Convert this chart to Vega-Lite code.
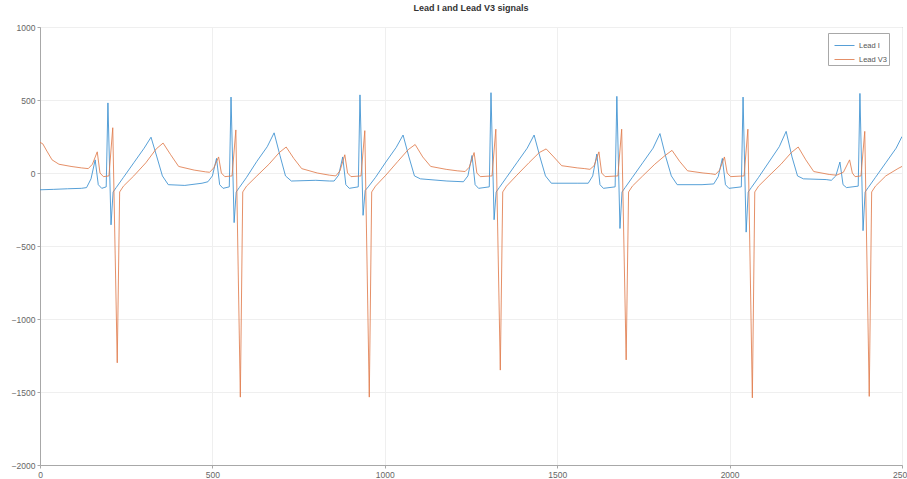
{
  "$schema": "https://vega.github.io/schema/vega-lite/v6.json",
  "width": 862,
  "height": 438,
  "autosize": "none",
  "padding": {"left": 40, "top": 27, "right": 5, "bottom": 14},
  "background": "white",
  "title": {"text": "Lead I and Lead V3 signals", "fontSize": 9, "fontWeight": "bold", "font": "Liberation Sans", "color": "#333333", "offset": 10, "anchor": "middle"},
  "config": {
    "view": {"stroke": "#a8a8a8", "strokeWidth": 1},
    "axis": {"labelFont": "Liberation Sans", "labelFontSize": 8.5, "labelColor": "#666666", "domainColor": "#a8a8a8", "tickColor": "#a8a8a8", "gridColor": "#efefef", "gridWidth": 1, "title": null, "tickSize": 3, "format": "d"}
  },
  "datasets": {
    "lead1": [
      {"t":0,"v":-115},{"t":40,"v":-112},{"t":80,"v":-108},{"t":120,"v":-105},{"t":135,"v":-100},{"t":148,"v":-40},{"t":160,"v":90},{"t":169,"v":-80},{"t":179,"v":-105},{"t":192,"v":-95},{"t":197,"v":480},{"t":206,"v":-355},{"t":212,"v":-130},{"t":221,"v":-100},{"t":242,"v":-30},{"t":272,"v":70},{"t":302,"v":170},{"t":322,"v":245},{"t":339,"v":110},{"t":355,"v":-20},{"t":372,"v":-80},{"t":420,"v":-85},{"t":470,"v":-70},
      {"t":487,"v":-60},{"t":500,"v":-20},{"t":512,"v":100},{"t":521,"v":-80},{"t":531,"v":-105},{"t":549,"v":-95},{"t":554,"v":520},{"t":563,"v":-340},{"t":569,"v":-130},{"t":578,"v":-100},{"t":599,"v":-30},{"t":629,"v":80},{"t":659,"v":180},{"t":679,"v":275},{"t":696,"v":120},{"t":712,"v":-20},{"t":729,"v":-55},{"t":800,"v":-50},{"t":840,"v":-55},
      {"t":853,"v":-55},{"t":866,"v":-15},{"t":878,"v":110},{"t":887,"v":-80},{"t":897,"v":-105},{"t":923,"v":-95},{"t":928,"v":535},{"t":937,"v":-290},{"t":943,"v":-120},{"t":952,"v":-95},{"t":973,"v":-30},{"t":1003,"v":75},{"t":1033,"v":175},{"t":1053,"v":260},{"t":1070,"v":110},{"t":1086,"v":-20},{"t":1103,"v":-40},{"t":1180,"v":-55},
      {"t":1228,"v":-60},{"t":1241,"v":-20},{"t":1253,"v":120},{"t":1262,"v":-80},{"t":1272,"v":-105},{"t":1303,"v":-95},{"t":1308,"v":550},{"t":1317,"v":-320},{"t":1323,"v":-130},{"t":1332,"v":-100},{"t":1353,"v":-30},{"t":1383,"v":70},{"t":1413,"v":170},{"t":1433,"v":260},{"t":1450,"v":110},{"t":1466,"v":-20},{"t":1483,"v":-70},{"t":1560,"v":-70},
      {"t":1590,"v":-70},{"t":1603,"v":-20},{"t":1615,"v":130},{"t":1624,"v":-80},{"t":1634,"v":-105},{"t":1668,"v":-95},{"t":1673,"v":525},{"t":1682,"v":-380},{"t":1688,"v":-130},{"t":1697,"v":-100},{"t":1718,"v":-30},{"t":1748,"v":70},{"t":1778,"v":170},{"t":1798,"v":270},{"t":1815,"v":110},{"t":1831,"v":-20},{"t":1848,"v":-80},{"t":1920,"v":-80},
      {"t":1954,"v":-75},{"t":1967,"v":-25},{"t":1979,"v":100},{"t":1988,"v":-80},{"t":1998,"v":-105},{"t":2034,"v":-95},{"t":2039,"v":520},{"t":2048,"v":-405},{"t":2054,"v":-130},{"t":2063,"v":-100},{"t":2084,"v":-30},{"t":2114,"v":75},{"t":2144,"v":180},{"t":2164,"v":285},{"t":2181,"v":110},{"t":2197,"v":-20},{"t":2214,"v":-40},{"t":2280,"v":-45},
      {"t":2295,"v":-50},{"t":2308,"v":-20},{"t":2320,"v":75},{"t":2329,"v":-80},{"t":2339,"v":-100},{"t":2373,"v":-90},{"t":2378,"v":545},{"t":2387,"v":-395},{"t":2393,"v":-130},{"t":2402,"v":-100},{"t":2423,"v":-30},{"t":2453,"v":70},{"t":2483,"v":170},{"t":2500,"v":250}
    ],
    "v3": [
      {"t":0,"v":210},{"t":8,"v":200},{"t":20,"v":150},{"t":35,"v":90},{"t":55,"v":60},{"t":90,"v":45},{"t":120,"v":35},{"t":140,"v":30},{"t":152,"v":60},{"t":166,"v":145},{"t":174,"v":0},{"t":184,"v":-25},{"t":200,"v":-20},{"t":211,"v":310},{"t":224,"v":-1300},{"t":231,"v":-130},{"t":242,"v":-90},{"t":272,"v":-20},{"t":307,"v":70},{"t":337,"v":165},{"t":357,"v":205},{"t":379,"v":125},{"t":402,"v":45},{"t":447,"v":20},{"t":480,"v":8},
      {"t":492,"v":5},{"t":504,"v":35},{"t":518,"v":110},{"t":526,"v":0},{"t":536,"v":-25},{"t":557,"v":-20},{"t":568,"v":295},{"t":581,"v":-1535},{"t":588,"v":-130},{"t":599,"v":-90},{"t":629,"v":-20},{"t":664,"v":60},{"t":694,"v":140},{"t":714,"v":178},{"t":736,"v":100},{"t":759,"v":30},{"t":804,"v":0},{"t":840,"v":-15},
      {"t":858,"v":-20},{"t":870,"v":15},{"t":884,"v":125},{"t":892,"v":0},{"t":902,"v":-25},{"t":931,"v":-20},{"t":942,"v":290},{"t":955,"v":-1535},{"t":962,"v":-130},{"t":973,"v":-90},{"t":1003,"v":-15},{"t":1038,"v":80},{"t":1068,"v":160},{"t":1088,"v":195},{"t":1110,"v":110},{"t":1133,"v":45},{"t":1178,"v":25},{"t":1210,"v":15},
      {"t":1233,"v":10},{"t":1245,"v":40},{"t":1259,"v":140},{"t":1267,"v":0},{"t":1277,"v":-25},{"t":1311,"v":-20},{"t":1322,"v":300},{"t":1335,"v":-1350},{"t":1342,"v":-130},{"t":1353,"v":-90},{"t":1383,"v":-15},{"t":1418,"v":70},{"t":1448,"v":140},{"t":1468,"v":165},{"t":1490,"v":110},{"t":1513,"v":50},{"t":1558,"v":35},{"t":1580,"v":30},
      {"t":1595,"v":25},{"t":1607,"v":50},{"t":1621,"v":145},{"t":1629,"v":0},{"t":1639,"v":-25},{"t":1676,"v":-20},{"t":1687,"v":300},{"t":1700,"v":-1280},{"t":1707,"v":-130},{"t":1718,"v":-90},{"t":1748,"v":-20},{"t":1783,"v":60},{"t":1813,"v":120},{"t":1833,"v":155},{"t":1855,"v":80},{"t":1878,"v":15},{"t":1923,"v":0},{"t":1945,"v":-5},
      {"t":1959,"v":-10},{"t":1971,"v":20},{"t":1985,"v":110},{"t":1993,"v":0},{"t":2003,"v":-25},{"t":2042,"v":-20},{"t":2053,"v":300},{"t":2066,"v":-1540},{"t":2073,"v":-130},{"t":2084,"v":-90},{"t":2114,"v":-20},{"t":2149,"v":60},{"t":2179,"v":140},{"t":2199,"v":178},{"t":2221,"v":90},{"t":2244,"v":10},{"t":2289,"v":-10},
      {"t":2310,"v":-15},{"t":2330,"v":5},{"t":2348,"v":90},{"t":2356,"v":0},{"t":2364,"v":-25},{"t":2381,"v":-20},{"t":2392,"v":285},{"t":2405,"v":-1530},{"t":2412,"v":-130},{"t":2423,"v":-90},{"t":2453,"v":-20},{"t":2488,"v":30},{"t":2500,"v":45}
    ]
  },
  "encoding": {
    "x": {"field": "t", "type": "quantitative", "scale": {"domain": [0, 2500], "nice": false, "zero": false}, "axis": {"values": [0, 500, 1000, 1500, 2000, 2500], "labelPadding": 2, "labelFlush": false}},
    "y": {"field": "v", "type": "quantitative", "scale": {"domain": [-2000, 1000], "nice": false}, "axis": {"values": [-2000, -1500, -1000, -500, 0, 500, 1000], "labelPadding": 2}}
  },
  "layer": [
    {
      "data": {"name": "lead1"},
      "mark": {"type": "line", "strokeWidth": 1, "clip": true, "opacity": 0.85},
      "encoding": {
        "color": {"datum": "Lead I", "type": "nominal", "scale": {"domain": ["Lead I", "Lead V3"], "range": ["#3a8fd0", "#e07c4e"]},
          "legend": {"orient": "none", "legendX": 788, "legendY": 6, "title": null, "symbolType": "stroke", "symbolSize": 400, "symbolStrokeWidth": 1, "labelFont": "Liberation Sans", "labelFontSize": 7.5, "labelColor": "#555555", "strokeColor": "#a8a8a8", "fillColor": "white", "padding": 2, "rowPadding": 0, "labelOffset": 4, "symbolOffset": 4}}
      }
    },
    {
      "data": {"name": "v3"},
      "mark": {"type": "line", "strokeWidth": 1, "clip": true, "opacity": 0.85},
      "encoding": {
        "color": {"datum": "Lead V3", "type": "nominal"}
      }
    }
  ]
}
